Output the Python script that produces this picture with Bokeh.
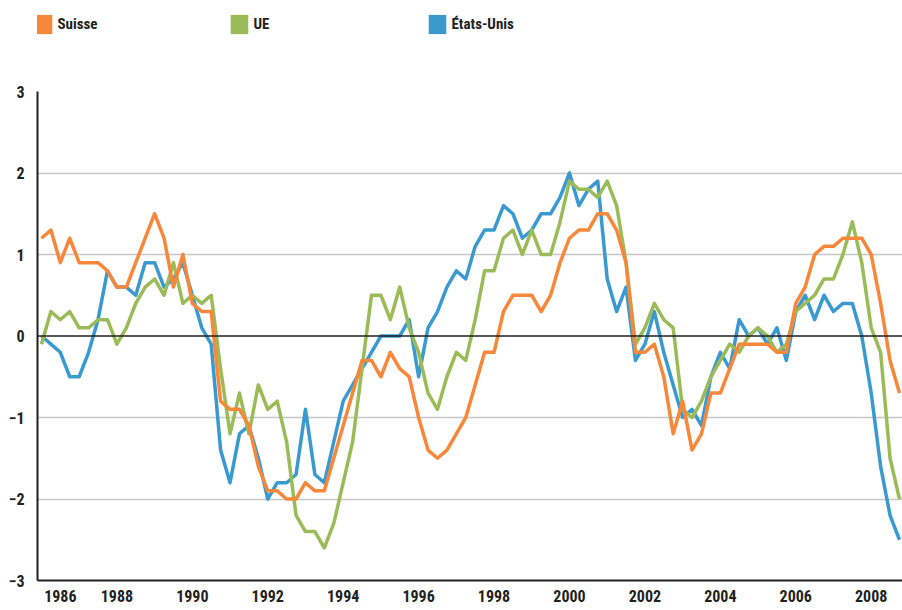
from bokeh.plotting import figure
from bokeh.models import Range1d, FixedTicker, Span, Legend, LegendItem
from bokeh.layouts import column
from bokeh.embed import file_html
from bokeh.resources import INLINE

# Quarterly values, 1986 Q1 .. 2008 Q4
suisse = [1.2, 1.3, 0.9, 1.2, 0.9, 0.9, 0.9, 0.8, 0.6, 0.6, 0.9, 1.2, 1.5, 1.2, 0.6, 1.0, 0.4, 0.3, 0.3,
          -0.8, -0.9, -0.9, -1.1, -1.6, -1.9, -1.9, -2.0, -2.0, -1.8, -1.9, -1.9, -1.5, -1.1, -0.7, -0.3, -0.3, -0.5,
          -0.2, -0.4, -0.5, -1.0, -1.4, -1.5, -1.4, -1.2, -1.0, -0.6, -0.2, -0.2, 0.3, 0.5, 0.5, 0.5, 0.3, 0.5,
          0.9, 1.2, 1.3, 1.3, 1.5, 1.5, 1.3, 0.9, -0.2, -0.2, -0.1, -0.5, -1.2, -0.8, -1.4, -1.2, -0.7, -0.7,
          -0.4, -0.1, -0.1, -0.1, -0.1, -0.2, -0.2, 0.4, 0.6, 1.0, 1.1, 1.1, 1.2, 1.2, 1.2, 1.0, 0.4, -0.3, -0.7]
ue = [-0.1, 0.3, 0.2, 0.3, 0.1, 0.1, 0.2, 0.2, -0.1, 0.1, 0.4, 0.6, 0.7, 0.5, 0.9, 0.4, 0.5, 0.4, 0.5,
      -0.4, -1.2, -0.7, -1.2, -0.6, -0.9, -0.8, -1.3, -2.2, -2.4, -2.4, -2.6, -2.3, -1.8, -1.3, -0.4, 0.5, 0.5,
      0.2, 0.6, 0.1, -0.2, -0.7, -0.9, -0.5, -0.2, -0.3, 0.2, 0.8, 0.8, 1.2, 1.3, 1.0, 1.3, 1.0, 1.0,
      1.4, 1.9, 1.8, 1.8, 1.7, 1.9, 1.6, 0.9, -0.1, 0.1, 0.4, 0.2, 0.1, -0.9, -1.0, -0.8, -0.5, -0.3,
      -0.1, -0.2, 0.0, 0.1, 0.0, -0.2, -0.1, 0.3, 0.4, 0.5, 0.7, 0.7, 1.0, 1.4, 0.9, 0.1, -0.2, -1.5, -2.0]
etats_unis = [0.0, -0.1, -0.2, -0.5, -0.5, -0.2, 0.2, 0.8, 0.6, 0.6, 0.5, 0.9, 0.9, 0.6, 0.7, 0.9, 0.5, 0.1, -0.1,
              -1.4, -1.8, -1.2, -1.1, -1.5, -2.0, -1.8, -1.8, -1.7, -0.9, -1.7, -1.8, -1.3, -0.8, -0.6, -0.4, -0.2, 0.0,
              0.0, 0.0, 0.2, -0.5, 0.1, 0.3, 0.6, 0.8, 0.7, 1.1, 1.3, 1.3, 1.6, 1.5, 1.2, 1.3, 1.5, 1.5,
              1.7, 2.0, 1.6, 1.8, 1.9, 0.7, 0.3, 0.6, -0.3, -0.1, 0.3, -0.2, -0.6, -1.0, -0.9, -1.1, -0.5, -0.2,
              -0.4, 0.2, 0.0, 0.1, -0.1, 0.1, -0.3, 0.3, 0.5, 0.2, 0.5, 0.3, 0.4, 0.4, 0.0, -0.7, -1.6, -2.2, -2.5]
quarters = [1986 + i / 4 for i in range(len(suisse))]

series_names = ["Suisse", "UE", "États-Unis"]
x_tick_pos = [1986.5, 1988, 1990, 1992, 1994, 1996, 1998, 2000, 2002, 2004, 2006, 2008]
x_tick_labels = ["1986", "1988", "1990", "1992", "1994", "1996", "1998", "2000", "2002", "2004", "2006", "2008"]
y_ticks = [-3, -2, -1, 0, 1, 2, 3]
y_tick_labels = ["\u22123", "\u22122", "\u22121", "0", "1", "2", "3"]

ORANGE = "#F7873B"
GREEN = "#9BBB59"
BLUE = "#3A9AD0"
INK = "#231f20"
FONT = "'Liberation Sans Narrow', 'Roboto Condensed', Roboto, sans-serif"
NAN = float("nan")

# ---- legend strip (its frame is aligned with the chart frame, left edge x=37) ----
lg = figure(width=902, height=80, output_backend="svg", toolbar_location=None,
            x_axis_location=None, y_axis_location=None,
            x_range=Range1d(0, 1), y_range=Range1d(0, 1),
            min_border_left=0, min_border_right=0, min_border_top=0, min_border_bottom=0)
lg.outline_line_color = None
lg.grid.visible = False
lg.background_fill_color = "white"
lg.border_fill_color = "white"
legend_x = [-5.5, 190.5, 388.5]
for name, c, lx in zip(series_names, (ORANGE, GREEN, BLUE), legend_x):
    r = lg.quad(left=[NAN], right=[NAN], top=[NAN], bottom=[NAN], fill_color=c, line_color=None)
    leg = Legend(items=[LegendItem(label=name, renderers=[r])],
                 orientation="horizontal", location=(lx, 44),
                 glyph_width=22, glyph_height=24, label_standoff=4,
                 spacing=0, padding=0, margin=0, border_line_color=None,
                 background_fill_alpha=0,
                 label_text_font=FONT, label_text_font_size="15px",
                 label_text_font_style="bold", label_text_color=INK)
    lg.add_layout(leg)

# ---- main chart ----
p = figure(width=902, height=530, output_backend="svg", toolbar_location=None,
           x_range=Range1d(1985.895, 2008.83), y_range=Range1d(-3, 3),
           min_border_left=37, min_border_right=0, min_border_top=11, min_border_bottom=30)
p.outline_line_color = None
p.background_fill_color = "white"
p.border_fill_color = "white"

p.xgrid.visible = False
p.ygrid.ticker = FixedTicker(ticks=[-2, -1, 1, 2, 3])
p.ygrid.grid_line_color = "#c8c8c8"
p.ygrid.grid_line_width = 1.5

p.xaxis.ticker = FixedTicker(ticks=x_tick_pos)
p.xaxis.major_label_overrides = {t: l for t, l in zip(x_tick_pos, x_tick_labels)}
p.yaxis.ticker = FixedTicker(ticks=y_ticks)
p.yaxis.major_label_overrides = {t: l for t, l in zip(y_ticks, y_tick_labels)}
for ax in (p.xaxis, p.yaxis):
    ax.axis_line_color = INK
    ax.axis_line_width = 2
    ax.major_tick_line_color = None
    ax.minor_tick_line_color = None
    ax.major_tick_out = 0
    ax.major_tick_in = 0
    ax.major_label_text_font = FONT
    ax.major_label_text_font_style = "bold"
    ax.major_label_text_font_size = "16px"
    ax.major_label_text_color = INK
p.xaxis.major_label_standoff = 9
p.yaxis.major_label_standoff = 13

p.add_layout(Span(location=0, dimension="width", line_color=INK, line_width=1.5))

p.line(quarters, etats_unis, line_color=BLUE, line_width=3.5, line_join="round")
p.line(quarters, ue, line_color=GREEN, line_width=3.5, line_join="round")
p.line(quarters, suisse, line_color=ORANGE, line_width=3.5, line_join="round")

layout = column(lg, p, spacing=0)
open("out.html", "w").write(file_html(layout, INLINE))
